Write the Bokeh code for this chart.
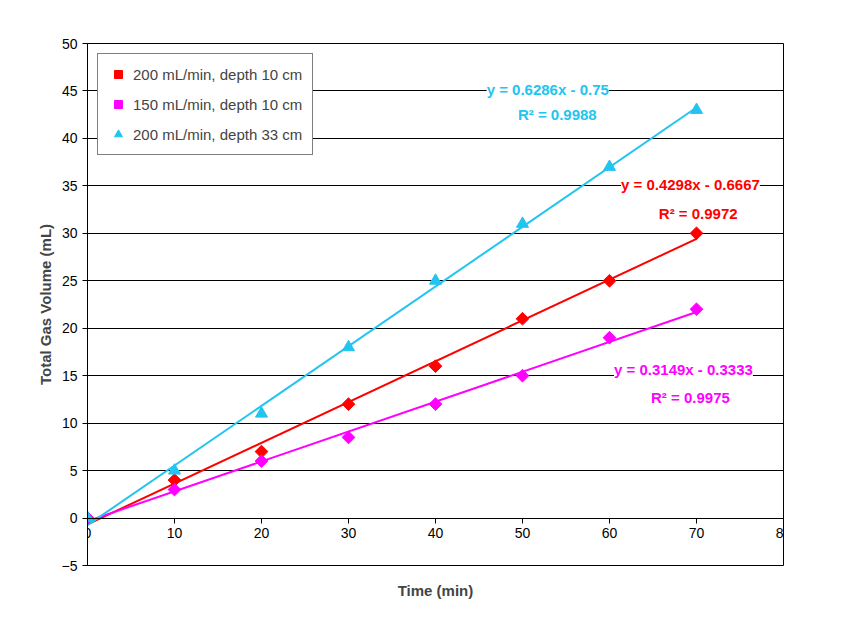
import numpy as np
from bokeh.plotting import figure
from bokeh.models import Label, Legend, LegendItem, FixedTicker, Range1d, LinearAxis
from bokeh.embed import file_html
from bokeh.resources import INLINE

time = [0, 10, 20, 30, 40, 50, 60, 70]
red_vals = [0, 4, 7, 12, 16, 21, 25, 30]
mag_vals = [0, 3, 6, 8.5, 12, 15, 19, 22]
cyan_vals = [0, 5, 11, 18, 25, 31, 37, 43]
fits = {"red": (0.4298, -0.6667, 0.9972), "mag": (0.3149, -0.3333, 0.9975), "cyan": (0.6286, -0.75, 0.9988)}
RED, MAG, CYAN = "#FF0000", "#FF00FF", "#22C4F0"
FONT = "Liberation Sans"

p = figure(width=830, height=609, output_backend="svg", toolbar_location=None,
           x_range=Range1d(0, 80), y_range=Range1d(-5, 50),
           min_border_left=87, min_border_right=47, min_border_top=43, min_border_bottom=44)
p.outline_line_color = "black"
p.xgrid.grid_line_color = None
p.ygrid.grid_line_color = "black"
p.ygrid.ticker = FixedTicker(ticks=list(range(-5, 55, 5)))
p.yaxis.ticker = FixedTicker(ticks=list(range(-5, 55, 5)))
p.xaxis.ticker = FixedTicker(ticks=list(range(0, 90, 10)))
p.xaxis.fixed_location = 0
for ax in (p.xaxis, p.yaxis):
    ax.major_label_text_font = FONT
    ax.major_label_text_font_size = "14px"
    ax.major_label_text_color = "black"
    ax.axis_line_color = "black"
    ax.major_tick_line_color = "black"
    ax.minor_tick_line_color = None
    ax.major_tick_in = 0
    ax.major_tick_out = 5
p.yaxis.axis_label = "Total Gas Volume (mL)"
p.yaxis.axis_label_text_font = FONT
p.yaxis.axis_label_text_font_size = "15px"
p.yaxis.axis_label_text_font_style = "bold"

xl = LinearAxis(axis_label="Time (min)", ticker=FixedTicker(ticks=[]), axis_line_color=None,
                major_label_text_font_size="0px", axis_label_text_font=FONT,
                axis_label_text_font_size="15px", axis_label_text_font_style="bold",
                axis_label_standoff=16)
p.add_layout(xl, "below")

xs = np.array([0, 70])
for key, col in (("red", RED), ("mag", MAG), ("cyan", CYAN)):
    m, b, _ = fits[key]
    p.line(xs, m * xs + b, line_color=col, line_width=2)

r1 = p.scatter(time, red_vals, marker="square", angle=0.785, size=9, color=RED)
r2 = p.scatter(time, mag_vals, marker="square", angle=0.785, size=9, color=MAG)
r3 = p.scatter(time, cyan_vals, marker="triangle", size=12, color=CYAN)

leg = Legend(items=[LegendItem(label="200 mL/min, depth 10 cm", renderers=[r1]),
                    LegendItem(label="150 mL/min, depth 10 cm", renderers=[r2]),
                    LegendItem(label="200 mL/min, depth 33 cm", renderers=[r3])],
             location="top_left", border_line_color="black", label_text_font=FONT,
             label_text_font_size="15px", spacing=10, margin=10, padding=10,
             background_fill_alpha=1)
p.add_layout(leg)

def eq(key, x, y, x2, y2, col):
    m, b, r2v = fits[key]
    for xx, yy, t in ((x, y, f"y = {m}x - {abs(b)}"), (x2, y2, f"R² = {r2v}")):
        p.add_layout(Label(x=xx, y=yy, text=t, text_color=col, text_font=FONT,
                           text_font_size="15px", text_font_style="bold", text_align="center",
                           text_baseline="middle", background_fill_color="white"))

eq("cyan", 52.9, 45.2, 54.0, 42.5, CYAN)
eq("red", 69.3, 35.1, 70.2, 32.1, RED)
eq("mag", 68.5, 15.6, 69.3, 12.75, MAG)

open("out.html", "w").write(file_html(p, INLINE))
